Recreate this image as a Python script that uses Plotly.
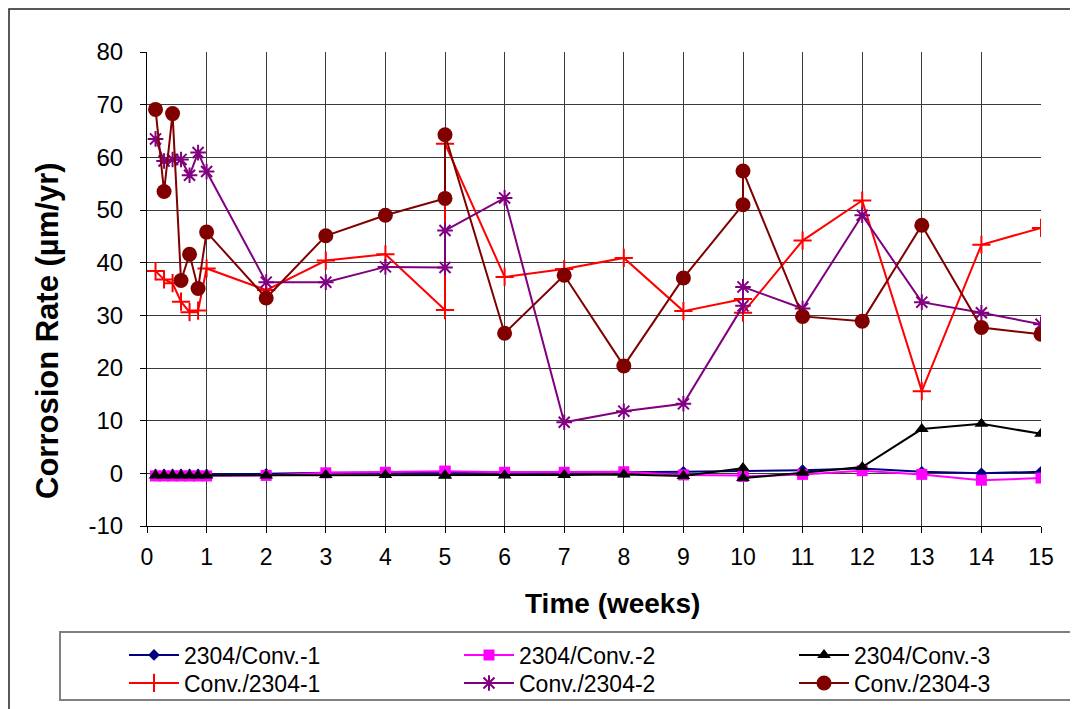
import plotly.graph_objects as go

# Time in weeks (first week sampled daily; duplicated readings at weeks 5 and 10)
time_weeks = [0.143, 0.286, 0.429, 0.571, 0.714, 0.857, 1, 2, 3, 4, 5, 5,
              6, 7, 8, 9, 10, 10, 11, 12, 13, 14, 15]

s2304_conv_1 = [-0.2, -0.2, -0.2, -0.2, -0.2, -0.2, -0.2, -0.1, 0.1, 0.1, 0.2, 0.2,
                0.1, 0.1, 0.2, 0.3, 0.4, 0.4, 0.6, 0.9, 0.3, 0.0, 0.3]
s2304_conv_2 = [-0.5, -0.5, -0.5, -0.5, -0.5, -0.5, -0.5, -0.4, 0.1, 0.2, 0.4, 0.4,
                0.2, 0.2, 0.3, -0.3, -0.4, -0.6, -0.2, 0.5, -0.2, -1.3, -0.9]
s2304_conv_3 = [-0.4, -0.4, -0.4, -0.4, -0.4, -0.4, -0.4, -0.4, -0.3, -0.3, -0.4, -0.4,
                -0.4, -0.3, -0.2, -0.5, 1.0, -0.9, 0.1, 1.2, 8.4, 9.4, 7.5]
conv_2304_1 = [38.4, 36.8, 36.1, 32.6, 30.6, 30.9, 38.9, 34.8, 40.4, 41.6, 31.0, 62.6,
               37.3, 38.8, 40.9, 30.8, 33.1, 30.5, 44.2, 51.8, 15.6, 43.4, 46.6]
conv_2304_2 = [63.5, 59.3, 59.6, 59.6, 56.6, 60.9, 57.3, 36.3, 36.3, 39.2, 39.1, 46.1,
               52.3, 9.7, 11.8, 13.2, 31.8, 35.4, 31.3, 49.0, 32.5, 30.5, 28.3]
conv_2304_3 = [69.1, 53.5, 68.3, 36.6, 41.6, 35.1, 45.8, 33.3, 45.1, 49.0, 52.2, 64.3,
               26.6, 37.6, 20.4, 37.1, 51.0, 57.4, 29.8, 28.9, 47.1, 27.7, 26.4]

series_names = ["2304/Conv.-1", "2304/Conv.-2", "2304/Conv.-3",
                "Conv./2304-1", "Conv./2304-2", "Conv./2304-3"]
x_ticks = list(range(0, 16))
y_ticks = list(range(-10, 81, 10))

# page has an 8px body margin; figure sized/placed to land on window pixels
OFF = 8
W, H = 1078 - OFF, 709 - OFF
L, R, T, B = 147 - OFF, 37, 52 - OFF, 183
PW, PH = W - L - R, H - T - B

def px(xp):
    return (xp - OFF - L) / PW

def py(yp):
    return (H - B - (yp - OFF)) / PH

styles = [
    dict(color="#000080", symbol="diamond", size=9, lw=2),
    dict(color="#FF00FF", symbol="square", size=11, lw=2),
    dict(color="#000000", symbol="triangle-up", size=12, lw=2),
    dict(color="#FF0000", symbol="cross-thin-open", size=13, lw=2),
    dict(color="#800080", symbol="asterisk-open", size=13, lw=2),
    dict(color="#800000", symbol="circle", size=15, lw=2),
]
data = [s2304_conv_1, s2304_conv_2, s2304_conv_3, conv_2304_1, conv_2304_2, conv_2304_3]
legend_ids = ["legend", "legend", "legend", "legend2", "legend2", "legend2"]

fig = go.Figure()
for name, ys, st, lg in zip(series_names, data, styles, legend_ids):
    open_sym = st["symbol"].endswith("open")
    fig.add_trace(go.Scatter(
        x=time_weeks, y=ys, name=name, mode="lines+markers", legend=lg,
        line=dict(color=st["color"], width=st["lw"]),
        marker=dict(symbol=st["symbol"], size=st["size"], color=st["color"],
                    line=dict(color=st["color"], width=2 if open_sym else 0)),
    ))

font_family = "Liberation Sans, Arial, sans-serif"
legend_common = dict(
    orientation="h", xanchor="left", yanchor="middle",
    font=dict(size=23, family=font_family, color="black"),
    entrywidth=270, entrywidthmode="pixels", itemwidth=50,
    bgcolor="rgba(0,0,0,0)", borderwidth=0, tracegroupgap=0,
)
fig.update_layout(
    width=W, height=H,
    margin=dict(l=L, r=R, t=T, b=B, autoexpand=False),
    paper_bgcolor="white", plot_bgcolor="white",
    font=dict(family=font_family, color="black"),
    showlegend=True,
    legend=dict(x=px(124), y=py(655), **legend_common),
    legend2=dict(x=px(124), y=py(683), **legend_common),
    xaxis=dict(
        range=[0, 15], tickvals=x_ticks, ticktext=[str(v) for v in x_ticks],
        showgrid=True, gridcolor="#3a3a3a", gridwidth=1,
        showline=True, linecolor="black", linewidth=1,
        ticks="outside", ticklen=6, tickcolor="black",
        tickfont=dict(size=23), ticklabelstandoff=4, zeroline=False,
    ),
    yaxis=dict(
        range=[-10, 80], tickvals=y_ticks, ticktext=[str(v) for v in y_ticks],
        showgrid=True, gridcolor="#3a3a3a", gridwidth=1,
        showline=True, linecolor="black", linewidth=1,
        ticks="outside", ticklen=6, tickcolor="black",
        tickfont=dict(size=24), ticklabelstandoff=12, zeroline=False,
    ),
    annotations=[
        dict(text="<b>Time (weeks)</b>", xref="paper", yref="paper",
             x=px(612), y=py(603), xanchor="center", yanchor="middle",
             showarrow=False, font=dict(size=28, color="black")),
        dict(text="<b>Corrosion Rate (µm/yr)</b>", xref="paper", yref="paper",
             x=px(47), y=py(331), xanchor="center", yanchor="middle", textangle=-90,
             showarrow=False, font=dict(size=31, color="black")),
    ],
    shapes=[
        dict(type="rect", xref="paper", yref="paper",
             x0=px(9), x1=px(1300), y0=py(900), y1=py(9),
             line=dict(color="#222222", width=1.5), fillcolor="rgba(0,0,0,0)", layer="below"),
        dict(type="rect", xref="paper", yref="paper",
             x0=px(60), x1=px(1300), y0=py(700), y1=py(632),
             line=dict(color="#808080", width=2), fillcolor="rgba(0,0,0,0)", layer="below"),
    ],
)

fig.write_html("out.html")
